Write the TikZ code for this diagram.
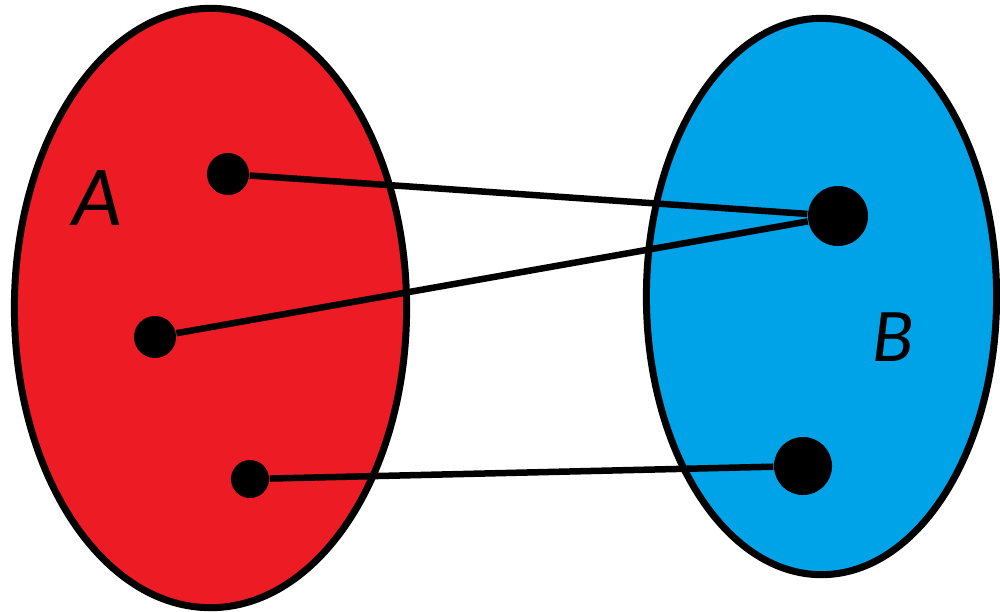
\documentclass[tikz,border=0pt]{standalone}
\usepackage{fontspec}
\setmainfont{Carlito}
\usepackage{tikz}
\usetikzlibrary{shapes.geometric}
\definecolor{setred}{RGB}{237,28,36}
\definecolor{setblue}{RGB}{0,162,232}
\tikzset{
  setnode/.style={ellipse,draw=black,line width=0.07cm,inner sep=0pt},
  elem/.style={circle,fill=black,inner sep=0pt,minimum size=#1},
  elem/.default=0.42cm,
  maps/.style={line width=0.065cm,black},
  setlabel/.style={font=\fontsize{#1}{#1}\selectfont\itshape,inner sep=0pt},
}

\begin{document}
\begin{tikzpicture}[x=0.01cm,y=-0.01cm]
  \useasboundingbox (0,0) rectangle (1000,611);
  % the two sets
  \node[setnode,fill=setred,minimum width=3.92cm,minimum height=5.99cm]  (setA) at (210.5,308){};
  \node[setnode,fill=setblue,minimum width=3.50cm,minimum height=5.56cm] (setB) at (821.5,296.5){};
  \node[setlabel=24.3pt] (labA) at (97,198){A};
  \node[setlabel=21.6pt] (labB) at (893,337){B};
  % elements
  \node[elem]        (a1) at (228,174){};
  \node[elem]        (a2) at (155,337){};
  \node[elem=0.38cm] (a3) at (250,479){};
  \node[elem=0.60cm] (b1) at (838,216){};
  \node[elem=0.58cm] (b2) at (803,466){};
  % the mapping
  \draw[maps] (a1)--(b1);
  \draw[maps] (a2)--(b1);
  \draw[maps] (a3)--(b2);
\end{tikzpicture}
\end{document}
